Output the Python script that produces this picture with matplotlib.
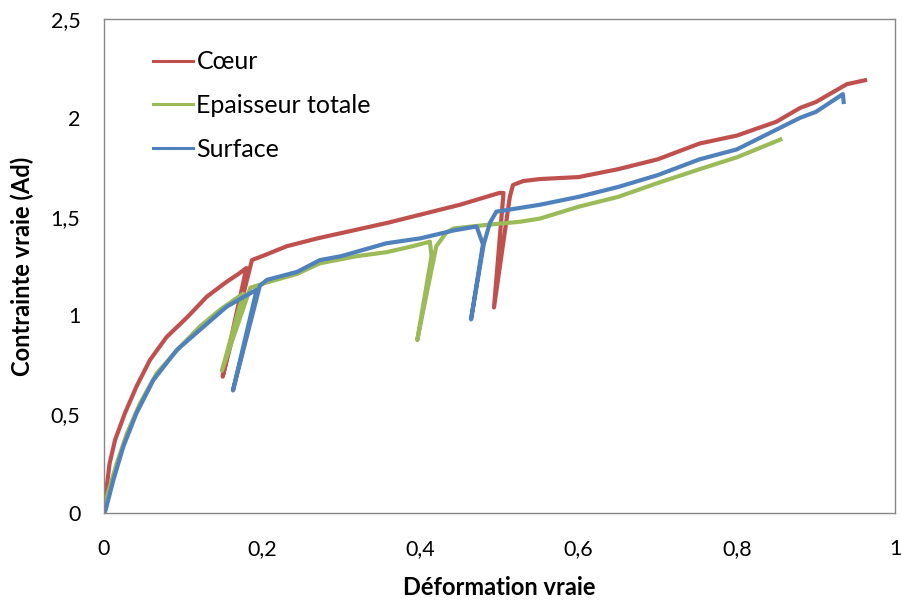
import matplotlib
matplotlib.use("Agg")
import matplotlib.pyplot as plt
from matplotlib.ticker import FuncFormatter

plt.rcParams['font.family'] = ['Lato', 'DejaVu Sans']

# Coeur (red) - loading with two unload/reload cycles
coeur_x = [0, 0.003, 0.007, 0.014, 0.0265, 0.041, 0.058, 0.079, 0.105, 0.130, 0.155, 0.17, 0.180,
           0.150, 0.187, 0.2, 0.231, 0.27, 0.315, 0.36, 0.40, 0.45, 0.5, 0.505,
           0.493, 0.513, 0.517, 0.53, 0.551, 0.6, 0.65, 0.7, 0.753, 0.8, 0.85, 0.88, 0.9, 0.939, 0.962]
coeur_y = [0, 0.12, 0.25, 0.37, 0.506, 0.64, 0.774, 0.89, 0.99, 1.095, 1.17, 1.21, 1.24,
           0.69, 1.28, 1.30, 1.35, 1.39, 1.43, 1.47, 1.51, 1.56, 1.62, 1.62,
           1.04, 1.60, 1.66, 1.68, 1.69, 1.70, 1.74, 1.79, 1.87, 1.91, 1.98, 2.05, 2.08, 2.17, 2.19]

# Epaisseur totale (green)
ep_x = [0, 0.0034, 0.016, 0.0287, 0.0455, 0.0666, 0.096, 0.121, 0.147, 0.165, 0.176,
        0.149, 0.185, 0.2, 0.244, 0.273, 0.32, 0.357, 0.39, 0.412, 0.414,
        0.396, 0.42, 0.433, 0.442, 0.488, 0.526, 0.551, 0.6, 0.65, 0.7, 0.753, 0.8, 0.855]
ep_y = [0, 0.08, 0.25, 0.40, 0.555, 0.707, 0.84, 0.943, 1.03, 1.08, 1.11,
        0.72, 1.14, 1.16, 1.21, 1.264, 1.30, 1.32, 1.35, 1.373, 1.30,
        0.875, 1.35, 1.42, 1.44, 1.46, 1.474, 1.49, 1.55, 1.60, 1.67, 1.74, 1.80, 1.89]

# Surface (blue)
surf_x = [0, 0.002, 0.0118, 0.0244, 0.041, 0.0624, 0.092, 0.121, 0.155, 0.175, 0.193,
          0.163, 0.197, 0.206, 0.244, 0.273, 0.3, 0.357, 0.40, 0.442, 0.471, 0.479,
          0.464, 0.48, 0.488, 0.496, 0.551, 0.6, 0.65, 0.7, 0.753, 0.8, 0.88, 0.9, 0.934, 0.935]
surf_y = [0, 0.015, 0.167, 0.336, 0.505, 0.673, 0.825, 0.926, 1.044, 1.09, 1.13,
          0.62, 1.15, 1.18, 1.22, 1.28, 1.30, 1.365, 1.39, 1.43, 1.45, 1.36,
          0.98, 1.36, 1.47, 1.525, 1.56, 1.60, 1.65, 1.71, 1.79, 1.84, 2.00, 2.03, 2.12, 2.08]

fig = plt.figure(figsize=(9.03, 6.01), dpi=100)
ax = fig.add_axes([0.1152, 0.1464, 0.876, 0.822])

ax.plot(coeur_x, coeur_y, color='#C0504D', lw=3, label='Cœur')
ax.plot(ep_x, ep_y, color='#9BBB59', lw=3, label='Epaisseur totale')
ax.plot(surf_x, surf_y, color='#4F81BD', lw=3, label='Surface')

ax.set_xlim(0, 1)
ax.set_ylim(0, 2.5)
ax.set_xticks([0, 0.2, 0.4, 0.6, 0.8, 1])
ax.set_yticks([0, 0.5, 1, 1.5, 2, 2.5])
fmt = FuncFormatter(lambda v, p: ('%g' % v).replace('.', ','))
ax.xaxis.set_major_formatter(fmt)
ax.yaxis.set_major_formatter(fmt)
ax.tick_params(axis='both', length=0, labelsize=15.5, colors='black')
ax.tick_params(axis='x', pad=19)
ax.tick_params(axis='y', pad=17)

for s in ax.spines.values():
    s.set_color('#868686')
    s.set_linewidth(1.0)

ax.set_xlabel('Déformation vraie', fontsize=17, fontweight='bold', labelpad=12)
ax.set_ylabel('Contrainte vraie (Ad)', fontsize=17, fontweight='bold', labelpad=12)

leg = ax.legend(loc='upper left', bbox_to_anchor=(0.034, 0.982), frameon=False, fontsize=18,
                handlelength=1.6, handletextpad=0.12, labelspacing=0.83)
for h in leg.get_lines():
    h.set_linewidth(2.2)

fig.savefig('out.png', dpi=100)
